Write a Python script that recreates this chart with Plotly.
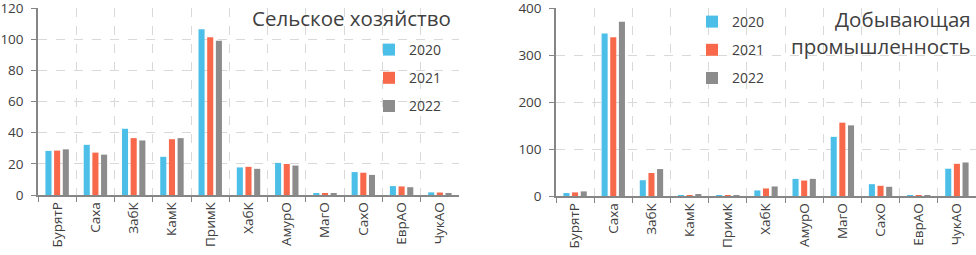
import plotly.graph_objects as go

regions = ["БурятР", "Саха", "ЗабК", "КамК", "ПримК", "ХабК", "АмурО", "МагО", "СахО", "ЕврАО", "ЧукАО"]
years = ["2020", "2021", "2022"]
colors = ["#4BBFE8", "#F8694C", "#8C8C8C"]

agri_2020 = [28.3, 32.2, 42.5, 24.5, 106.3, 17.7, 20.6, 0.8, 14.7, 5.7, 1.7]
agri_2021 = [28.5, 27.2, 36.5, 35.8, 101.3, 18.1, 19.9, 1.0, 14.3, 5.5, 1.6]
agri_2022 = [29.3, 25.9, 35.0, 36.5, 99.0, 16.8, 18.9, 1.0, 12.9, 5.0, 1.1]

mining_2020 = [6.3, 346, 33.6, 2.0, 2.0, 11.9, 36.4, 125.9, 25.2, 1.5, 58.0]
mining_2021 = [7.7, 338, 49.0, 2.0, 2.0, 16.1, 32.9, 156.0, 21.7, 1.5, 68.5]
mining_2022 = [9.8, 371, 57.3, 3.0, 2.0, 20.3, 36.4, 150.3, 19.6, 1.5, 71.3]

agri = [agri_2020, agri_2021, agri_2022]
mining = [mining_2020, mining_2021, mining_2022]

title_left = "Сельское хозяйство"
title_right = "Добывающая<br>промышленность"

W, H = 976, 255
FONT = "Open Sans"
TXT = "#404040"

fig = go.Figure()
for i, y in enumerate(years):
    fig.add_trace(go.Bar(x=regions, y=agri[i], name=y, marker_color=colors[i],
                         xaxis="x", yaxis="y", legend="legend", legendgroup="L" + y))
for i, y in enumerate(years):
    fig.add_trace(go.Bar(x=regions, y=mining[i], name=y, marker_color=colors[i],
                         xaxis="x2", yaxis="y2", legend="legend2", legendgroup="R" + y))

def px(x):
    return x / W

def py(y):
    return 1 - y / H

xcommon = dict(type="category", range=[-0.5, 10.5], tickson="boundaries", automargin=False,
               showgrid=True, gridcolor="#D9D9D9", griddash="dash", gridwidth=1,
               showline=True, linecolor="#868686", linewidth=1.5,
               ticks="outside", ticklen=5, tickcolor="#868686", tickwidth=1.2,
               ticklabeloverflow="allow",
               tickangle=-90, tickfont=dict(family=FONT, size=13.5, color=TXT))
ycommon = dict(showgrid=True, gridcolor="#D9D9D9", griddash="dash", gridwidth=1, automargin=False,
               showline=True, linecolor="#868686", linewidth=1.5,
               ticks="outside", ticklen=5, tickcolor="#868686", tickwidth=1.2,
               ticklabeloverflow="allow",
               tickfont=dict(family=FONT, size=13.5, color=TXT), zeroline=False,
               ticklabelstandoff=5)

fig.update_layout(
    template="none",
    width=W, height=H,
    margin=dict(l=0, r=0, t=0, b=0, pad=0),
    paper_bgcolor="white", plot_bgcolor="white",
    barmode="group", bargap=0.32, bargroupgap=0.3,
    font=dict(family=FONT, color=TXT),
    xaxis=dict(domain=[px(38), px(459)], anchor="y", **xcommon),
    yaxis=dict(domain=[py(195), py(8)], anchor="x", range=[0, 120], dtick=20, **ycommon),
    xaxis2=dict(domain=[px(556), 1.0], anchor="y2", **xcommon),
    yaxis2=dict(domain=[py(196), py(8)], anchor="x2", range=[0, 400], dtick=100, **ycommon),
    legend=dict(x=px(369), y=py(34), xanchor="left", yanchor="top",
                bgcolor="rgba(0,0,0,0)", font=dict(family=FONT, size=14, color=TXT),
                tracegroupgap=7, itemwidth=30),
    legend2=dict(x=px(692), y=py(6), xanchor="left", yanchor="top",
                 bgcolor="rgba(0,0,0,0)", font=dict(family=FONT, size=14, color=TXT),
                 tracegroupgap=7, itemwidth=30),
    annotations=[
        dict(text=title_left, x=px(453), y=py(18), xref="paper", yref="paper",
             xanchor="right", yanchor="middle", showarrow=False,
             font=dict(family=FONT, size=20.5, color=TXT)),
        dict(text=title_right, x=px(973), y=py(3), xref="paper", yref="paper",
             xanchor="right", yanchor="top", align="right", showarrow=False,
             font=dict(family=FONT, size=20.5, color=TXT)),
    ],
)

fig.write_html("out.html", config={"displayModeBar": False},
               post_script="document.body.style.margin='0';document.body.style.overflow='hidden';")
